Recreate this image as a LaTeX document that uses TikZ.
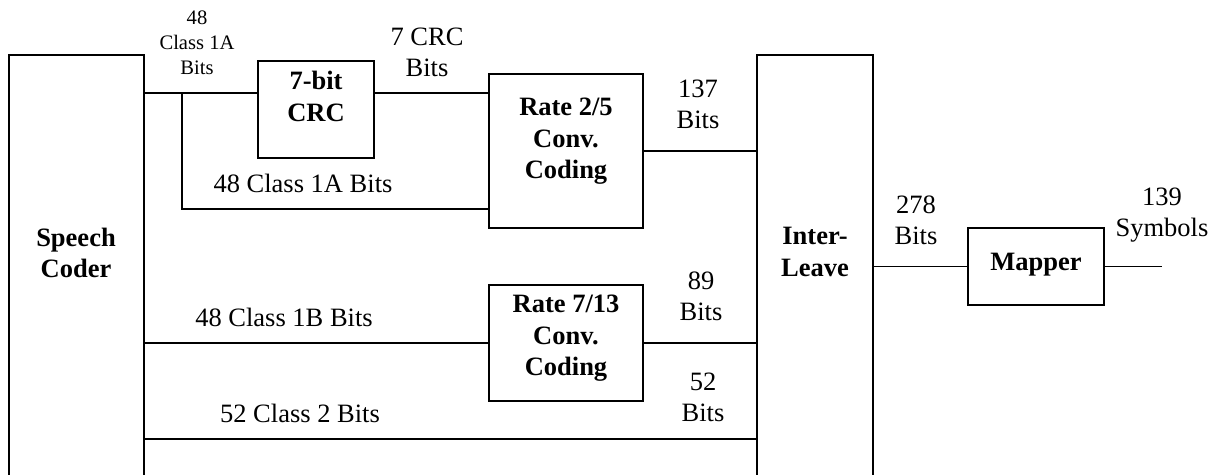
\documentclass[tikz,border=0pt]{standalone}
\usepackage{fontspec}
\setmainfont{Liberation Serif}
\begin{document}
\begin{tikzpicture}[x=1pt,y=-1pt,
  blk/.style={draw, line width=1.5pt, inner sep=0pt},
  wire/.style={line width=1.5pt},
  lbl/.style={font=\fontsize{26.5}{31}\selectfont, align=center, inner sep=0pt, text depth=0pt},
  small/.style={font=\fontsize{20.6}{25}\selectfont, align=center, inner sep=0pt, text depth=0pt},
  ttl/.style={font=\fontsize{26.5}{31.5}\selectfont\bfseries, align=center, inner sep=0pt, text depth=0pt}]
\clip (0,0) rectangle (1217,474);
\fill[white] (0,0) rectangle (1217,474);

% blocks
\node[blk, minimum width=135pt, minimum height=440pt] (sc) at (76.5,275) {};
\node[blk, minimum width=116pt, minimum height=97pt] (crc) at (316,109.5) {};
\node[blk, minimum width=154pt, minimum height=154pt] (r25) at (566,151) {};
\node[blk, minimum width=154pt, minimum height=116pt] (r713) at (566,343) {};
\node[blk, minimum width=116pt, minimum height=440pt] (il) at (815,275) {};
\node[blk, minimum width=136pt, minimum height=77pt] (map) at (1036,266.5) {};

% block titles
\node[ttl] (sctxt) at (76,253) {Speech\\Coder};
\node[ttl] (crctxt) at (316,96.5) {7-bit\\CRC};
\node[ttl] (r25txt) at (566,138.5) {Rate 2/5\\Conv.\\Coding};
\node[ttl] (r713txt) at (566,335.5) {Rate 7/13\\Conv.\\Coding};
\node[ttl] (iltxt) at (815,252) {Inter-\\Leave};
\node[ttl] (maptxt) at (1036,262) {Mapper};

% wiring
\coordinate (tap) at (182,93);
\coordinate (byp) at (182,209);
\coordinate (row2) at (0,439);
\coordinate (out) at (1162,266.5);
\draw[wire] (sc.east |- tap) -- (crc.west |- tap);
\draw[wire] (crc.east |- tap) -- (r25.west |- tap);
\draw[wire] (tap) -- (byp) -- (r25.west |- byp);
\draw[wire] (r25.east) -- (il.west |- r25.east);
\draw[wire] (sc.east |- r713.west) -- (r713.west);
\draw[wire] (r713.east) -- (il.west |- r713.east);
\draw[wire] (sc.east |- row2) -- (il.west |- row2);
\draw[wire] (il.east |- map.west) -- (map.west);
\draw[wire] (map.east) -- (out);

% signal labels
\node[small] (l1a) at (197,43) {48\\Class 1A\\Bits};
\node[lbl] (lcrc) at (427,52.5) {7 CRC\\Bits};
\node[lbl] (l1abyp) at (303,183) {48 Class 1A Bits};
\node[lbl] (l137) at (698,104) {137\\Bits};
\node[lbl] (l1b) at (284,317) {48 Class 1B Bits};
\node[lbl] (l89) at (701,296) {89\\Bits};
\node[lbl] (l52) at (703,397.5) {52\\Bits};
\node[lbl] (l2) at (300,413) {52 Class 2 Bits};
\node[lbl] (l278) at (916,220) {278\\Bits};
\node[lbl] (l139) at (1162,212.5) {139\\Symbols};
\end{tikzpicture}
\end{document}
